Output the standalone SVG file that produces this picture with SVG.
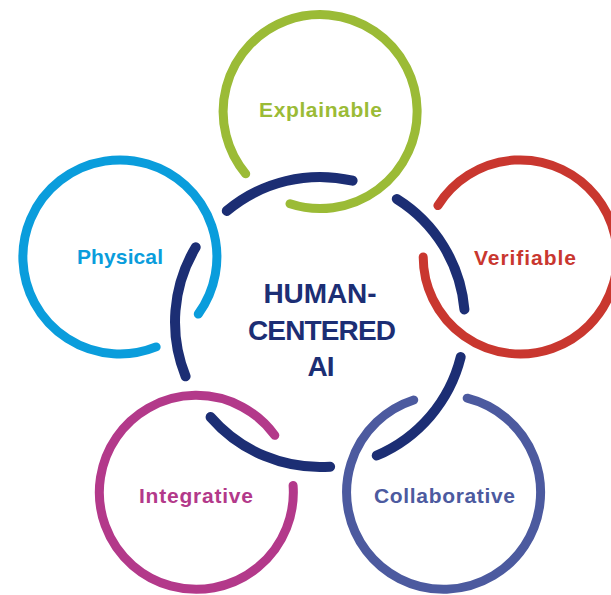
<svg xmlns="http://www.w3.org/2000/svg" width="611" height="595" viewBox="0 0 611 595">
<style>
.ring{fill:none;stroke-width:9;stroke-linecap:round}
.navy{fill:none;stroke:#1c2e74;stroke-width:10;stroke-linecap:round}
.lbl{font-family:"Liberation Sans",Arial,sans-serif;font-weight:bold;font-size:21px;text-anchor:middle}
.hub{font-family:"Liberation Sans",Arial,sans-serif;font-weight:bold;font-size:28px;text-anchor:middle;fill:#1c2e74}
</style>
<rect width="611" height="595" fill="#ffffff"/>
<g id="connectors">
<path class="navy" d="M226.8,210.9 A145,145 0 0 1 352.6,180.7"/>
<path class="navy" d="M396.8,199.0 A145,145 0 0 1 464.4,309.4"/>
<path class="navy" d="M460.7,357.1 A145,145 0 0 1 376.7,455.5"/>
<path class="navy" d="M330.1,466.7 A145,145 0 0 1 210.6,417.1"/>
<path class="navy" d="M185.6,376.3 A145,145 0 0 1 195.7,247.3"/>
</g>
<g id="hub">
<text class="hub" x="320" y="303" textLength="113" lengthAdjust="spacing">HUMAN-</text>
<text class="hub" x="322" y="340" textLength="148" lengthAdjust="spacing">CENTERED</text>
<text class="hub" x="321" y="376" textLength="27" lengthAdjust="spacing">AI</text>
</g>
<g id="explainable">
<path class="ring" stroke="#9bbb36" d="M245.7,173.8 A97,97 0 1 1 290.0,203.8"/>
<text class="lbl" fill="#9bbb36" x="320.5" y="117" textLength="123" lengthAdjust="spacing">Explainable</text>
</g>
<g id="verifiable">
<path class="ring" stroke="#c9372f" d="M437.9,205.6 A97,97 0 1 1 423.2,257"/>
<text class="lbl" fill="#c9372f" x="525" y="265" textLength="102" lengthAdjust="spacing">Verifiable</text>
</g>
<g id="collaborative">
<path class="ring" stroke="#4c5a9f" d="M467.2,398.2 A97,97 0 1 1 413.7,400.0"/>
<text class="lbl" fill="#4c5a9f" x="444.5" y="503" textLength="141" lengthAdjust="spacing">Collaborative</text>
</g>
<g id="integrative">
<path class="ring" stroke="#b3398a" d="M293.1,485.5 A97,97 0 1 1 274.8,435.3"/>
<text class="lbl" fill="#b3398a" x="196" y="503" textLength="114" lengthAdjust="spacing">Integrative</text>
</g>
<g id="physical">
<path class="ring" stroke="#0a9ddc" d="M156.1,346.9 A97,97 0 1 1 198.3,314.0"/>
<text class="lbl" fill="#0a9ddc" x="120" y="264" textLength="86" lengthAdjust="spacing">Physical</text>
</g>
</svg>
